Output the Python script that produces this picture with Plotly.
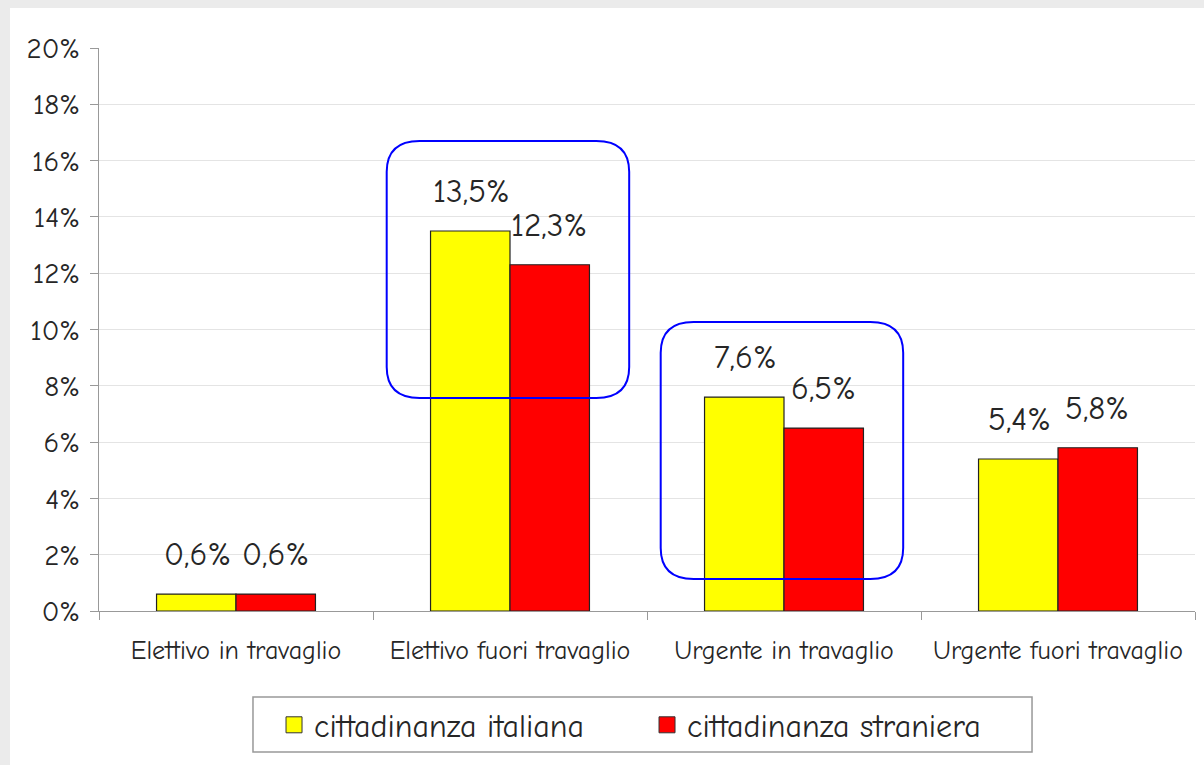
import plotly.graph_objects as go

categories = ["Elettivo in travaglio", "Elettivo fuori travaglio", "Urgente in travaglio", "Urgente fuori travaglio"]
italiana = [0.6, 13.5, 7.6, 5.4]
straniera = [0.6, 12.3, 6.5, 5.8]
series_names = ["cittadinanza italiana", "cittadinanza straniera"]
series_colors = ["#ffff00", "#ff0000"]
y_ticks = [0, 2, 4, 6, 8, 10, 12, 14, 16, 18, 20]
y_ticklabels = [f"{v}%" for v in y_ticks]
highlight_groups = [1, 2]

FONT = "Comic Sans MS, Comic Neue, DejaVu Sans, sans-serif"
TXT = "#262626"

fig = go.Figure()
for vals, name, col in zip((italiana, straniera), series_names, series_colors):
    fig.add_bar(x=categories, y=vals, name=name, showlegend=False,
                marker=dict(color=col, line=dict(color="#222222", width=1.2)))
# legend entries with larger square swatches
for name, col in zip(series_names, series_colors):
    fig.add_scatter(x=[None], y=[None], mode="markers", name=name,
                    marker=dict(symbol="square", size=20, color=col, line=dict(color="#333333", width=1)))

def fmt(v):
    return f"{v:.1f}".replace(".", ",") + "%"

for i, cat in enumerate(categories):
    for vals, dx in ((italiana, -39), (straniera, 39)):
        fig.add_annotation(x=cat, y=vals[i], text=fmt(vals[i]), showarrow=False,
                           xshift=dx, yshift=40, font=dict(size=33, color=TXT, family=FONT))

# white panel behind chart
fig.add_shape(type="rect", xref="paper", yref="paper", x0=-0.0812, x1=1.02, y0=-0.3, y1=1.071,
              fillcolor="white", line=dict(width=0), layer="below")

# legend frame
fig.add_shape(type="rect", xref="paper", yref="paper", x0=0.1405, x1=0.8513, y0=-0.2504, y1=-0.1528,
              fillcolor="rgba(0,0,0,0)", line=dict(color="#999999", width=1.5))

# rounded highlight boxes
def rounded(x0, x1, y0, y1, rx, ry):
    return (f"M {x0+rx},{y1} L {x1-rx},{y1} Q {x1},{y1} {x1},{y1-ry} "
            f"L {x1},{y0+ry} Q {x1},{y0} {x1-rx},{y0} L {x0+rx},{y0} Q {x0},{y0} {x0},{y0+ry} "
            f"L {x0},{y1-ry} Q {x0},{y1} {x0+rx},{y1} Z")

boxes = [(highlight_groups[0], 7.57, 16.7), (highlight_groups[1], 1.14, 10.27)]
for g, ylo, yhi in boxes:
    fig.add_shape(type="path", xref="x", yref="y",
                  path=rounded(g - 0.45, g + 0.435, ylo, yhi, 0.12, 1.1),
                  line=dict(color="#0000ff", width=2), fillcolor="rgba(0,0,0,0)")

fig.update_layout(
    width=1204, height=765,
    margin=dict(l=99, r=9, t=48, b=154),
    paper_bgcolor="#ebebeb", plot_bgcolor="white",
    barmode="group", bargap=0.42, bargroupgap=0,
    font=dict(family=FONT, color=TXT),
    showlegend=True,
    legend=dict(orientation="h", x=0.1597, xanchor="left", y=-0.2025, yanchor="middle",
                bgcolor="rgba(0,0,0,0)", borderwidth=0, itemsizing="trace",
                font=dict(size=32, family=FONT, color=TXT),
                itemwidth=30, entrywidthmode="pixels", entrywidth=328),
    xaxis=dict(showline=True, linecolor="#999999", ticks="outside", tickson="boundaries",
               ticklen=8, tickcolor="#999999", tickfont=dict(size=26, family=FONT, color=TXT),
               showgrid=False, ticklabelstandoff=16),
    yaxis=dict(range=[0, 20], tickvals=y_ticks, ticktext=y_ticklabels, showline=True,
               linecolor="#999999", ticks="outside", ticklen=8, tickcolor="#999999",
               gridcolor="#e4e4e4", tickfont=dict(size=29, family=FONT, color=TXT),
               zeroline=False, ticklabelstandoff=4),
)

fig.write_html("out.html", config={"displayModeBar": False},
               post_script="document.body.style.margin='0';document.body.style.background='#ebebeb';")
